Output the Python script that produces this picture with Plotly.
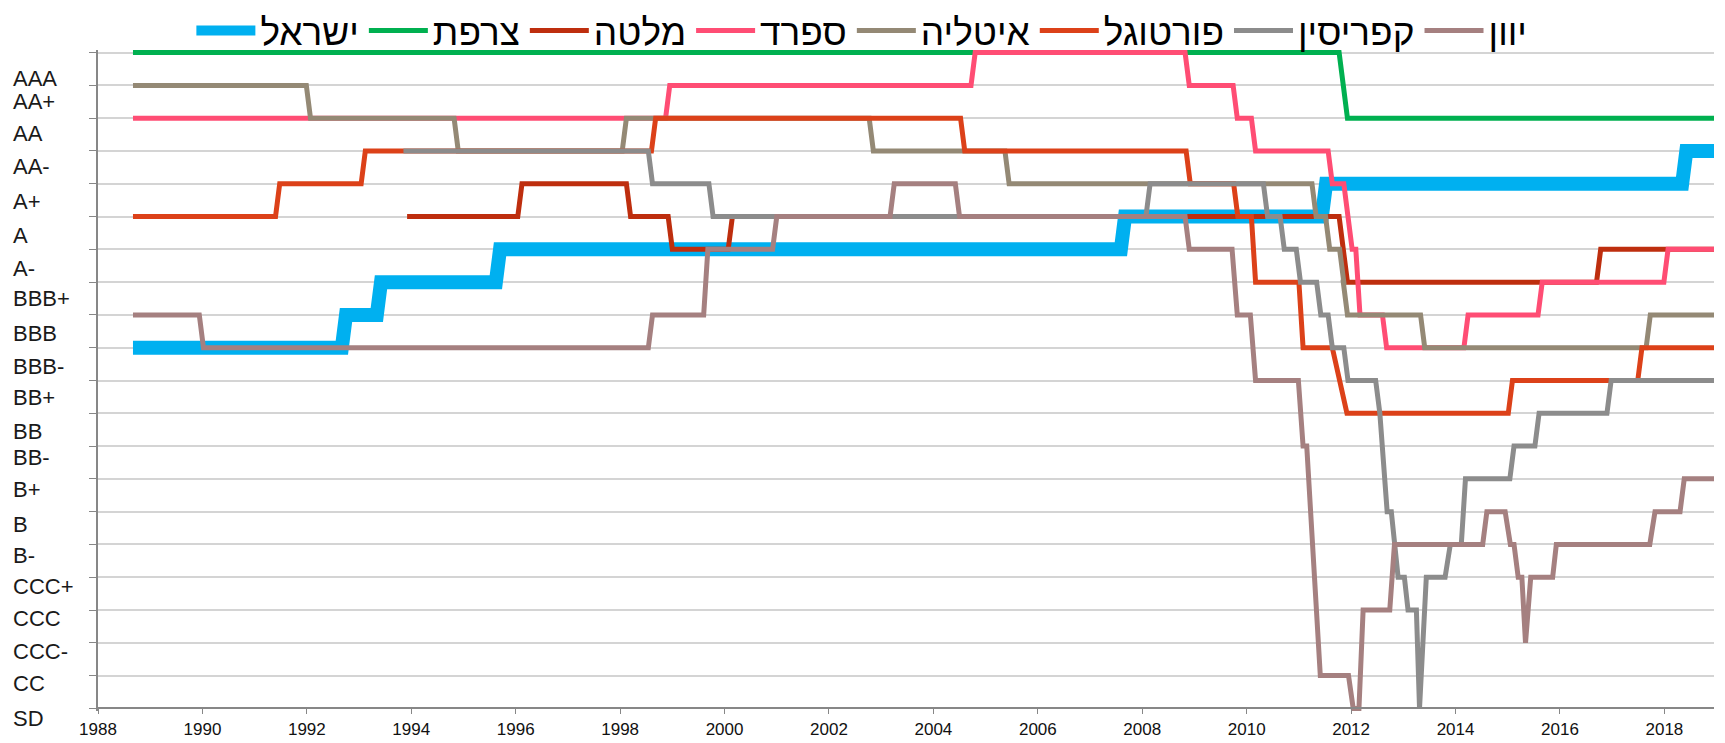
import plotly.graph_objects as go

# ---------------- data ----------------
RATINGS = ['SD', 'CC', 'CCC-', 'CCC', 'CCC+', 'B-', 'B', 'B+', 'BB-', 'BB', 'BB+',
           'BBB-', 'BBB', 'BBB+', 'A-', 'A', 'A+', 'AA-', 'AA', 'AA+', 'AAA']
LEVEL = {r: i for i, r in enumerate(RATINGS)}

X_TICKS = list(range(1988, 2019, 2))
END_YEAR = 2018.95

# rating change events: (decimal year, new rating[, ramp length in years])
ISRAEL = [(1988.67, 'BBB-'), (1992.75, 'BBB'), (1993.42, 'BBB+'), (1995.70, 'A-'),
          (2007.67, 'A'), (2011.52, 'A+'), (2018.42, 'AA-')]
FRANCE = [(1988.67, 'AAA'), (2011.85, 'AA+'), (2011.93, 'AA')]
MALTA = [(1993.92, 'A'), (1996.12, 'A+'), (1998.20, 'A'), (1999.00, 'A-'), (2000.15, 'A'),
         (2011.85, 'A-'), (2011.93, 'BBB+'), (2016.78, 'A-')]
SPAIN = [(1988.67, 'AA'), (1998.95, 'AA+'), (2004.80, 'AAA'), (2008.90, 'AA+'),
         (2009.82, 'AA'), (2010.17, 'AA-'), (2011.64, 'A+'), (2011.94, 'A'), (2012.02, 'A-'),
         (2012.17, 'BBB'), (2012.68, 'BBB-'), (2014.24, 'BBB'), (2015.66, 'BBB+'),
         (2018.07, 'A-')]
ITALY = [(1988.67, 'AA+'), (1992.07, 'AA'), (1994.90, 'AA-'), (1998.12, 'AA'),
         (2002.85, 'AA-'), (2005.45, 'A+'), (2011.33, 'A'), (2011.59, 'A-'),
         (2011.86, 'BBB+'), (2011.93, 'BBB'), (2013.41, 'BBB-'), (2017.73, 'BBB')]
PORTUGAL = [(1988.67, 'A'), (1991.48, 'A+'), (1993.12, 'AA-'), (1998.68, 'AA'),
            (2004.60, 'AA-'), (2008.92, 'A+'), (2009.83, 'A'), (2010.17, 'BBB+'),
            (2011.08, 'BBB-'), (2011.92, 'BB', 0.28), (2015.09, 'BB+'), (2017.57, 'BBB-')]
CYPRUS = [(1993.85, 'AA-'), (1998.62, 'A+'), (1999.78, 'A'), (2008.15, 'A+'),
          (2010.40, 'A'), (2010.72, 'A-'), (2011.03, 'BBB+'), (2011.42, 'BBB'),
          (2011.64, 'BBB-'), (2011.94, 'BB+'), (2012.55, 'BB'), (2012.69, 'B', 0.14),
          (2012.90, 'CCC+', 0.13), (2013.09, 'CCC', 0.07), (2013.31, 'SD', 0.06),
          (2013.44, 'CCC+', 0.13), (2013.90, 'B-', 0.10), (2014.19, 'B+'),
          (2015.12, 'BB-'), (2015.60, 'BB'), (2016.98, 'BB+')]
GREECE = [(1988.67, 'BBB'), (1990.02, 'BBB-'), (1998.62, 'BBB'), (1999.68, 'A-'),
          (2001.00, 'A'), (2003.25, 'A+'), (2004.50, 'A'), (2008.90, 'A-'),
          (2009.82, 'BBB', 0.10), (2010.17, 'BB+', 0.10), (2011.08, 'BB-', 0.09),
          (2011.41, 'CC', 0.26), (2012.04, 'SD', 0.09), (2012.23, 'CCC', 0.08),
          (2012.83, 'B-', 0.09), (2014.60, 'B'), (2015.05, 'B-', 0.10),
          (2015.20, 'CCC+'), (2015.34, 'CCC-', 0.07), (2015.44, 'CCC+', 0.10),
          (2015.93, 'B-', 0.07), (2017.82, 'B', 0.10), (2018.38, 'B+')]

NAMES = ['ישראל', 'צרפת', 'מלטה', 'ספרד', 'איטליה', 'פורטוגל', 'קפריסין', 'יוון']
SERIES = [ISRAEL, FRANCE, MALTA, SPAIN, ITALY, PORTUGAL, CYPRUS, GREECE]

# ---------------- styles / layout ----------------
COLORS = ['#00B0F0', '#00B050', '#BE2E0E', '#FF4D74', '#948975', '#DC4119', '#8C8C8C', '#A58080']
WIDTHS = [14, 5, 5, 5, 5, 5, 5, 5]
# vertical positions of the left-hand rating labels (they sit between grid lines)
LABEL_Y = [19.21, 18.5, 17.53, 16.54, 15.47, 14.43, 13.43, 12.51, 11.44, 10.42, 9.48,
           8.43, 7.66, 6.67, 5.62, 4.65, 3.71, 2.75, 1.72, 0.75, -0.30]

W, H = 1725, 743
# the page body adds an 8px offset, margins compensate for it
ML, MR, MT, MB = 90, 19, 42, 40
Y_RANGE = [-0.08, 20.08]
FONT = 'Liberation Sans, Arial, DejaVu Sans, sans-serif'
RAMP = 0.08


def steps(events, end=END_YEAR):
    xs, ys = [], []
    prev = None
    for ev in events:
        t, r = ev[0], ev[1]
        d = ev[2] if len(ev) > 2 else RAMP
        v = LEVEL[r]
        if prev is not None:
            xs.append(t - d)
            ys.append(prev)
        xs.append(t)
        ys.append(v)
        prev = v
    xs.append(end)
    ys.append(prev)
    return xs, ys


fig = go.Figure()
for name, ev, col, w in zip(NAMES, SERIES, COLORS, WIDTHS):
    xs, ys = steps(ev)
    fig.add_trace(go.Scatter(x=xs, y=ys, mode='lines', name=name,
                             line=dict(color=col, width=w)))

plot_w = W - ML - MR
plot_h = H - MT - MB
span = Y_RANGE[1] - Y_RANGE[0]
labels_top_down = RATINGS[::-1]
for txt, yy in zip(labels_top_down, LABEL_Y):
    fig.add_annotation(text=txt, x=-(ML - 3) / plot_w, xref='paper', xanchor='left',
                       y=(yy - Y_RANGE[0]) / span, yref='paper', yanchor='middle',
                       showarrow=False,
                       font=dict(size=22, family=FONT, color='#1a1a1a'))

x_pos = (0 - Y_RANGE[0]) / span
legend_y = 1 + (MT + 8) / plot_h
fig.update_layout(
    width=W, height=H,
    margin=dict(l=ML, r=MR, t=MT, b=MB, autoexpand=False),
    paper_bgcolor='white', plot_bgcolor='white',
    font=dict(family=FONT),
    showlegend=True,
    legend=dict(orientation='h', x=0.495, xanchor='center', xref='container',
                y=legend_y, yanchor='top', yref='paper',
                font=dict(size=37, family=FONT, color='#000000'),
                itemwidth=59, bgcolor='rgba(0,0,0,0)', tracegroupgap=0),
    xaxis=dict(range=[1988, END_YEAR], tickmode='array', tickvals=X_TICKS,
               ticktext=[str(t) for t in X_TICKS],
               showgrid=False, zeroline=False, showline=True,
               linecolor='#878787', linewidth=1.5,
               ticks='outside', ticklen=5, tickcolor='#878787', tickwidth=1.2,
               tickfont=dict(size=17, family=FONT, color='#111111'),
               anchor='free', position=x_pos),
    yaxis=dict(range=Y_RANGE, tickmode='linear', tick0=0, dtick=1,
               showticklabels=False, showgrid=True, gridcolor='#D4D4D4', gridwidth=1.5,
               zeroline=False, showline=True, linecolor='#878787', linewidth=1.5,
               ticks='outside', ticklen=7, tickcolor='#878787', tickwidth=1.2),
)

fig.write_html('out.html')
